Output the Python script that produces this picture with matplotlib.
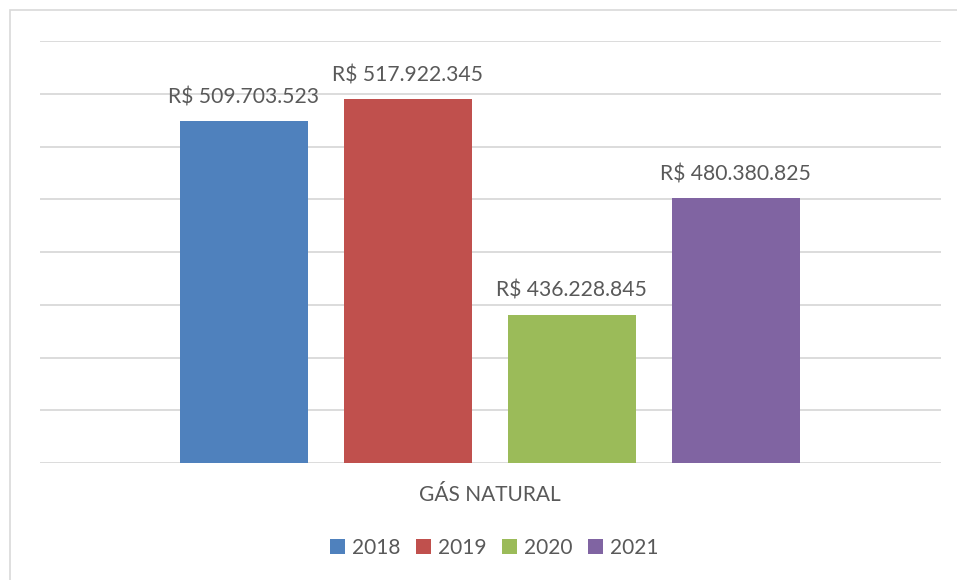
import matplotlib.pyplot as plt
from matplotlib.patches import Patch, Rectangle

# -------------------------------------------------------------
# Data
# -------------------------------------------------------------
years = ['2018', '2019', '2020', '2021']
values = [509703523, 517922345, 436228845, 480380825]
labels = ['R$ 509.703.523', 'R$ 517.922.345', 'R$ 436.228.845', 'R$ 480.380.825']
category = 'GÁS NATURAL'
colors = ['#4F81BD', '#C0504D', '#9BBB59', '#8064A2']

text_color = '#595959'
plt.rcParams['font.family'] = ['Lato', 'DejaVu Sans']

W, H = 957, 580
fig = plt.figure(figsize=(W / 100, H / 100), dpi=100)

# chart frame (only left/top edges visible in the reference)
fig.patches.append(Rectangle((9.5 / W, -0.1), 1.2, 1.1 - 11 / H + 0.001,
                             transform=fig.transFigure, fill=False,
                             edgecolor='#D9D9D9', linewidth=1.2))

ax = fig.add_axes([40 / W, 1 - 463 / H, 901 / W, 422 / H])

pitch = 164
width = 128 / pitch
xs = [-1.505, -0.505, 0.495, 1.495]
ax.bar(xs, values, width=width, color=colors, zorder=3)

for x, v, lab in zip(xs, values, labels):
    ax.annotate(lab, (x, v), xytext=(0, 10), textcoords='offset points',
                ha='center', va='bottom', fontsize=15.2, color=text_color)

ax.set_xlim(-901 / pitch / 2, 901 / pitch / 2)
ax.set_ylim(380e6, 540e6)
ax.set_yticks([380e6 + 20e6 * i for i in range(9)])
ax.grid(axis='y', color='#D9D9D9', linewidth=1.3, zorder=0)
ax.tick_params(left=False, bottom=False, labelleft=False, labelbottom=False)
for s in ax.spines.values():
    s.set_visible(False)

fig.text(490 / W, 1 - 495 / H, category, ha='center', va='center',
         fontsize=15, color=text_color)

handles = [Patch(facecolor=c, label=y) for c, y in zip(colors, years)]
fig.legend(handles=handles, loc='center', bbox_to_anchor=(494 / W, 1 - 548 / H),
           ncol=4, frameon=False, fontsize=15, labelcolor=text_color,
           handlelength=0.75, handleheight=0.75, handletextpad=0.3,
           columnspacing=0.75)

fig.savefig('out.png', dpi=100)
